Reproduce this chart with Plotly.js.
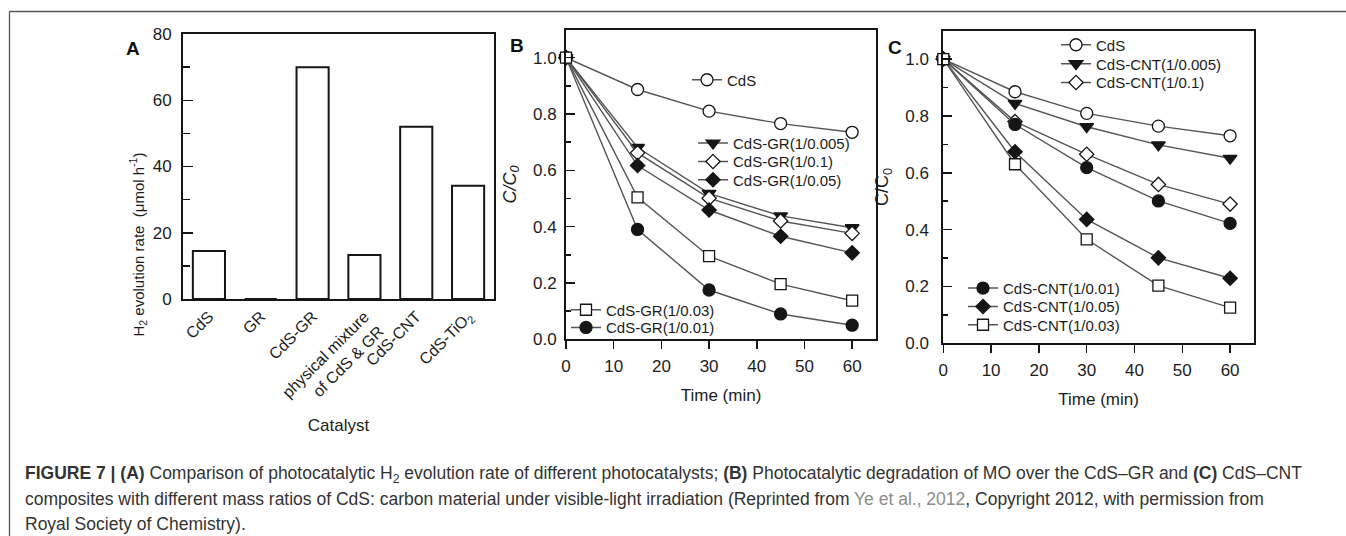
<!DOCTYPE html>
<html><head><meta charset="utf-8">
<script src="https://cdn.plot.ly/plotly-3.0.1.min.js"></script>
<style>html,body{margin:0;padding:0;background:#fff;} #chart{width:1346px;height:536px;}</style>
</head><body><div id="chart"></div>
<script>
const W = 1346, H = 536;
const FONT = '"Liberation Sans", Arial, Helvetica, sans-serif';

// ---------- DATA ----------
const catalysts = ['CdS', 'GR', 'CdS-GR', 'physical mixture<br>of CdS & GR', 'CdS-CNT', 'CdS-TiO<sub>2</sub>'];
const h2Rates = [14.5, 0, 70.0, 13.3, 52.0, 34.2];

const timeMin = [0, 15, 30, 45, 60];

const grNames = ['CdS', 'CdS-GR(1/0.005)', 'CdS-GR(1/0.1)', 'CdS-GR(1/0.05)', 'CdS-GR(1/0.03)', 'CdS-GR(1/0.01)'];
const grCdS   = [1.0, 0.887, 0.810, 0.766, 0.735];
const gr0005  = [1.0, 0.681, 0.518, 0.438, 0.396];
const gr01    = [1.0, 0.662, 0.501, 0.420, 0.376];
const gr005   = [1.0, 0.617, 0.459, 0.366, 0.307];
const gr003   = [1.0, 0.504, 0.295, 0.196, 0.137];
const gr001   = [1.0, 0.390, 0.175, 0.090, 0.050];

const cntNames = ['CdS', 'CdS-CNT(1/0.005)', 'CdS-CNT(1/0.1)', 'CdS-CNT(1/0.01)', 'CdS-CNT(1/0.05)', 'CdS-CNT(1/0.03)'];
const cntCdS  = [1.0, 0.885, 0.809, 0.764, 0.730];
const cnt0005 = [1.0, 0.844, 0.762, 0.698, 0.651];
const cnt01   = [1.0, 0.780, 0.665, 0.559, 0.490];
const cnt001  = [1.0, 0.770, 0.618, 0.501, 0.422];
const cnt005  = [1.0, 0.674, 0.436, 0.301, 0.229];
const cnt003  = [1.0, 0.630, 0.366, 0.203, 0.126];

// ---------- STYLES ----------
const INK = '#151515', LINE = '#555', TXT = '#1c1c1c';
const sym = {
  openCircle:  {symbol: 'circle', color: '#fff', size: 12},
  triDown:     {symbol: 'triangle-down', color: INK, size: 12},
  openDiamond: {symbol: 'diamond', color: '#fff', size: 11},
  fillDiamond: {symbol: 'diamond', color: INK, size: 11},
  openSquare:  {symbol: 'square', color: '#fff', size: 11},
  fillCircle:  {symbol: 'circle', color: INK, size: 12}
};
const px = (x) => x / W;
const py = (y) => 1 - y / H;

function series(name, y, s, xa, ya, legendId) {
  return {
    type: 'scatter', mode: 'lines+markers', name: name,
    x: timeMin, y: y, xaxis: xa, yaxis: ya, legend: legendId, showlegend: true,
    line: {color: LINE, width: 1.4},
    marker: {symbol: s.symbol, color: s.color, size: s.size, line: {color: INK, width: 1.3}},
    cliponaxis: false
  };
}

const traces = [
  {type: 'bar', x: catalysts, y: h2Rates, xaxis: 'x', yaxis: 'y', width: 0.62, showlegend: false,
   marker: {color: '#fff', line: {color: INK, width: 2}}},
  // panel B
  series(grNames[0], grCdS,  sym.openCircle,  'x2', 'y2', 'legend'),
  series(grNames[1], gr0005, sym.triDown,     'x2', 'y2', 'legend2'),
  series(grNames[2], gr01,   sym.openDiamond, 'x2', 'y2', 'legend3'),
  series(grNames[3], gr005,  sym.fillDiamond, 'x2', 'y2', 'legend4'),
  series(grNames[5], gr001,  sym.fillCircle,  'x2', 'y2', 'legend6'),
  series(grNames[4], gr003,  sym.openSquare,  'x2', 'y2', 'legend5'),
  // panel C
  series(cntNames[0], cntCdS,  sym.openCircle,  'x3', 'y3', 'legend7'),
  series(cntNames[1], cnt0005, sym.triDown,     'x3', 'y3', 'legend8'),
  series(cntNames[2], cnt01,   sym.openDiamond, 'x3', 'y3', 'legend9'),
  series(cntNames[3], cnt001,  sym.fillCircle,  'x3', 'y3', 'legend10'),
  series(cntNames[4], cnt005,  sym.fillDiamond, 'x3', 'y3', 'legend11'),
  series(cntNames[5], cnt003,  sym.openSquare,  'x3', 'y3', 'legend12')
];

function lg(leftPx, midPx) {
  return {x: px(leftPx), y: py(midPx), xanchor: 'left', yanchor: 'middle',
          bgcolor: 'rgba(0,0,0,0)', borderwidth: 0, itemwidth: 30,
          font: {family: FONT, size: 15, color: TXT}};
}

const tickFont = {family: FONT, size: 17, color: TXT};
const baseAxis = {showline: true, linecolor: INK, linewidth: 2, mirror: true,
                  showgrid: false, zeroline: false, tickfont: tickFont,
                  tickcolor: INK, tickwidth: 1.5};

const layout = {
  width: W, height: H,
  margin: {l: 0, r: 0, t: 0, b: 0},
  paper_bgcolor: '#fff', plot_bgcolor: 'rgba(0,0,0,0)',
  font: {family: FONT, color: TXT},
  showlegend: true,
  // panel A
  xaxis: Object.assign({}, baseAxis, {
    domain: [px(183), px(494)], anchor: 'y', type: 'category', range: [-0.5, 5.5],
    ticks: '', tickangle: -45, tickfont: {family: FONT, size: 16, color: TXT},
    title: {text: 'Catalyst', font: {family: FONT, size: 17, color: TXT}, standoff: 0}
  }),
  yaxis: Object.assign({}, baseAxis, {
    domain: [py(299), py(34)], anchor: 'x', range: [0, 80], dtick: 20, tick0: 0,
    ticks: 'inside', ticklen: 10, ticklabelstandoff: 6,
    minor: {ticks: 'inside', ticklen: 7, dtick: 10, tick0: 0, tickcolor: INK, tickwidth: 1.5, showgrid: false}
  }),
  // panel B
  xaxis2: Object.assign({}, baseAxis, {
    domain: [px(566), px(876)], anchor: 'y2', range: [0, 65], dtick: 10, tick0: 0,
    ticks: 'outside', ticklen: 8, ticklabelstandoff: 2,
    title: {text: 'Time (min)', font: {family: FONT, size: 17, color: TXT}, standoff: 14}
  }),
  yaxis2: Object.assign({}, baseAxis, {
    domain: [py(339.3), py(29.5)], anchor: 'x2', range: [0, 1.1], dtick: 0.2, tick0: 0,
    tickformat: '.1f', ticks: 'inside', ticklen: 9, ticklabelstandoff: 4,
    minor: {ticks: 'inside', ticklen: 5, dtick: 0.1, tick0: 0, tickcolor: INK, tickwidth: 1.5, showgrid: false},
    title: {text: '<i>C/C<sub>0</sub></i>', font: {family: FONT, size: 18, color: TXT}, standoff: 12}
  }),
  // panel C
  xaxis3: Object.assign({}, baseAxis, {
    domain: [px(943.3), px(1254)], anchor: 'y3', range: [0, 65], dtick: 10, tick0: 0,
    ticks: 'outside', ticklen: 8, ticklabelstandoff: 2,
    title: {text: 'Time (min)', font: {family: FONT, size: 17, color: TXT}, standoff: 14}
  }),
  yaxis3: Object.assign({}, baseAxis, {
    domain: [py(343.4), py(30.6)], anchor: 'x3', range: [0, 1.1], dtick: 0.2, tick0: 0,
    tickformat: '.1f', ticks: 'inside', ticklen: 9, ticklabelstandoff: 9,
    minor: {ticks: 'inside', ticklen: 5, dtick: 0.1, tick0: 0, tickcolor: INK, tickwidth: 1.5, showgrid: false},
    title: {text: 'C/C<sub>0</sub>', font: {family: FONT, size: 18, color: TXT}, standoff: 12}
  }),
  legend:   lg(687, 80),
  legend2:  lg(693, 143.3),
  legend3:  lg(693, 161.7),
  legend4:  lg(693, 180),
  legend5:  lg(566, 310),
  legend6:  lg(566, 327.7),
  legend7:  lg(1056, 45),
  legend8:  lg(1056, 64),
  legend9:  lg(1056, 82.7),
  legend10: lg(963, 288.3),
  legend11: lg(963, 306.7),
  legend12: lg(963, 325),
  shapes: [
    {type: 'line', xref: 'paper', yref: 'paper', x0: px(9.5), x1: 1, y0: py(11.5), y1: py(11.5), line: {color: '#555', width: 1.3}},
    {type: 'line', xref: 'paper', yref: 'paper', x0: px(9.5), x1: px(9.5), y0: py(11.5), y1: 0, line: {color: '#555', width: 1.3}}
  ],
  annotations: [
    {xref: 'paper', yref: 'paper', x: px(125), y: py(151), textangle: -90, showarrow: false,
     text: 'H<sub>2</sub> evolution rate\u00a0 (μmol h<sup>-1</sup>)', font: {family: FONT, size: 15, color: TXT}},
    {xref: 'paper', yref: 'paper', x: px(123.5), y: py(36), text: '<b>A</b>', showarrow: false, font: {family: FONT, size: 19, color: '#111'}},
    {xref: 'paper', yref: 'paper', x: px(517), y: py(33), text: '<b>B</b>', showarrow: false, font: {family: FONT, size: 19, color: '#111'}},
    {xref: 'paper', yref: 'paper', x: px(894.5), y: py(35), text: '<b>C</b>', showarrow: false, font: {family: FONT, size: 19, color: '#111'}},
    {xref: 'paper', yref: 'paper', x: px(22.5), y: py(460.5), xanchor: 'left', yanchor: 'top', align: 'left', showarrow: false,
     font: {family: FONT, size: 17.5, color: '#333'},
     text: '<b>FIGURE 7 | (A)</b> Comparison of photocatalytic H<sub>2</sub> evolution rate of different photocatalysts; <b>(B)</b> Photocatalytic degradation of MO over the CdS–GR and <b>(C)</b> CdS–CNT'},
    {xref: 'paper', yref: 'paper', x: px(22.5), y: py(486.5), xanchor: 'left', yanchor: 'top', align: 'left', showarrow: false,
     font: {family: FONT, size: 17.5, color: '#333'},
     text: 'composites with different mass ratios of CdS: carbon material under visible-light irradiation (Reprinted from <span style="color:#8c8c8c">Ye et al., 2012</span>, Copyright 2012, with permission from'},
    {xref: 'paper', yref: 'paper', x: px(22.5), y: py(511.5), xanchor: 'left', yanchor: 'top', align: 'left', showarrow: false,
     font: {family: FONT, size: 17.5, color: '#333'},
     text: 'Royal Society of Chemistry).'}
  ]
};

Plotly.newPlot('chart', traces, layout, {displayModeBar: false, staticPlot: true});
</script></body></html>
